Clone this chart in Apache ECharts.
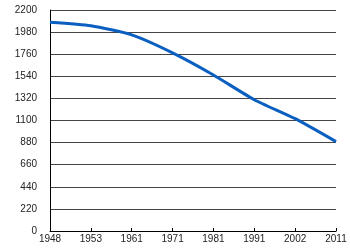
<!DOCTYPE html>
<html>
<head>
<meta charset="utf-8">
<script src="https://cdn.jsdelivr.net/npm/echarts@6/dist/echarts.min.js"></script>
<style>html,body{margin:0;padding:0;background:#fff}#c{width:350px;height:250px}</style>
</head>
<body>
<div id="c"></div>
<script>
var years = ['1948','1953','1961','1971','1981','1991','2002','2011'];
var values = [2078, 2043, 1952, 1773, 1553, 1307, 1118, 890];
var yMin = 0, yMax = 2200, yStep = 220;

var chart = echarts.init(document.getElementById('c'), null, {renderer: 'canvas'});
chart.setOption({
  animation: false,
  backgroundColor: '#ffffff',
  grid: {left: 50, right: 14, top: 10, bottom: 19, containLabel: false},
  xAxis: {
    type: 'category',
    data: years,
    boundaryGap: false,
    axisLine: {lineStyle: {color: '#000', width: 1}},
    axisTick: {show: true, inside: true, length: 3, lineStyle: {color: '#000'}},
    axisLabel: {color: '#222', fontSize: 10, fontFamily: 'Liberation Sans, Arial, sans-serif', margin: 3, interval: 0},
    splitLine: {show: false}
  },
  yAxis: {
    type: 'value',
    min: yMin, max: yMax, interval: yStep,
    axisLine: {show: true, lineStyle: {color: '#000', width: 1}},
    axisTick: {show: false},
    axisLabel: {color: '#222', fontSize: 10, fontFamily: 'Liberation Sans, Arial, sans-serif', margin: 13,
      formatter: function (v) { return String(v); }},
    splitLine: {show: true, lineStyle: {color: '#444', width: 1}}
  },
  series: [{
    type: 'line',
    data: values,
    smooth: 0.2,
    symbol: 'none',
    lineStyle: {color: '#0a5fc0', width: 3}
  }]
});
</script>
</body>
</html>
